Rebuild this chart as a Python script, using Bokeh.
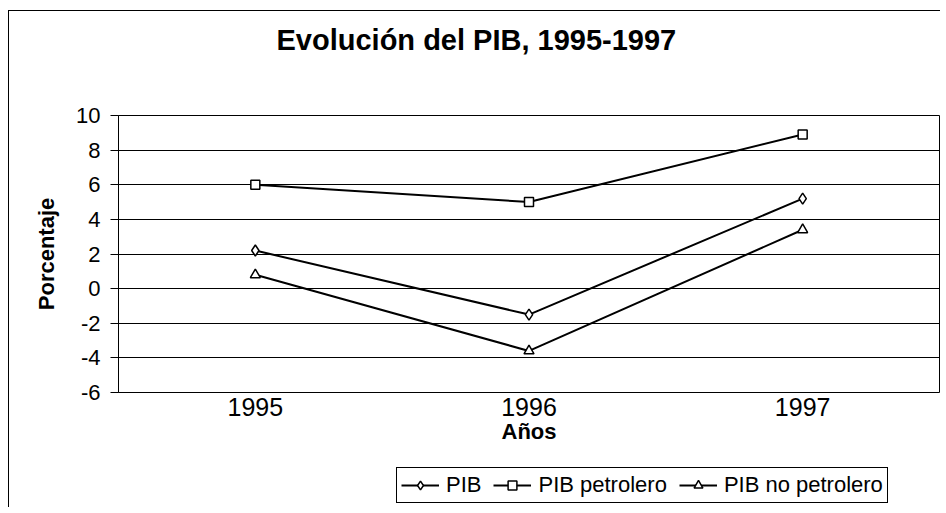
from bokeh.plotting import figure
from bokeh.layouts import column
from bokeh.models import (Range1d, FactorRange, Legend, LegendItem, FixedTicker,
                          PrintfTickFormatter, Title)
from bokeh.embed import file_html
from bokeh.resources import INLINE

# ---- data ----
years = ["1995", "1996", "1997"]
pib = [2.2, -1.5, 5.2]
pib_petrolero = [6.0, 5.0, 8.9]
pib_no_petrolero = [0.8, -3.6, 3.4]
y_ticks = [-6, -4, -2, 0, 2, 4, 6, 8, 10]
series_names = ["PIB", "PIB petrolero", "PIB no petrolero"]

FONT = "Liberation Sans"

p = figure(frame_width=821, frame_height=277,
           x_range=FactorRange(*years), y_range=Range1d(-6, 10),
           output_backend="svg", toolbar_location=None,
           min_border_left=109, min_border_right=1,
           min_border_top=104, min_border_bottom=55,
           background_fill_color="white", border_fill_color="white")

# title (outermost) + spacer between title and frame
p.title.text = "Evolución del PIB, 1995-1997"
p.title.text_font = FONT
p.title.text_font_size = "29px"
p.title.text_font_style = "bold"
p.title.text_color = "black"
p.title.align = "left"
p.title.offset = 158
p.title.standoff = 20
p.add_layout(Title(text=" ", text_font_size="1px", standoff=47), "above")

# frame / grid
p.outline_line_color = "black"
p.outline_line_width = 1
p.outline_line_alpha = 1
p.xgrid.grid_line_color = None
p.ygrid.grid_line_color = "black"
p.ygrid.grid_line_width = 1
p.ygrid.grid_line_alpha = 1

# y axis
p.yaxis.ticker = FixedTicker(ticks=y_ticks)
p.yaxis.formatter = PrintfTickFormatter(format="%d")
p.yaxis.axis_label = "Porcentaje"
p.yaxis.axis_label_text_font = FONT
p.yaxis.axis_label_text_font_size = "22px"
p.yaxis.axis_label_text_font_style = "bold"
p.yaxis.axis_label_text_color = "black"
p.yaxis.axis_label_standoff = 14
p.yaxis.major_label_text_font = FONT
p.yaxis.major_label_text_font_size = "22px"
p.yaxis.major_label_text_color = "black"
p.yaxis.major_label_standoff = 10
p.yaxis.major_tick_out = 8
p.yaxis.major_tick_in = 0
p.yaxis.minor_tick_line_color = None
p.yaxis.axis_line_color = "black"
p.yaxis.major_tick_line_color = "black"

# x axis
p.xaxis.axis_label = "Años"
p.xaxis.axis_label_text_font = FONT
p.xaxis.axis_label_text_font_size = "22px"
p.xaxis.axis_label_text_font_style = "bold"
p.xaxis.axis_label_text_color = "black"
p.xaxis.axis_label_standoff = 0
p.xaxis.major_label_text_font = FONT
p.xaxis.major_label_text_font_size = "25px"
p.xaxis.major_label_text_color = "black"
p.xaxis.major_label_standoff = -1
p.xaxis.major_tick_line_color = None
p.xaxis.minor_tick_line_color = None
p.xaxis.axis_line_color = None

markers = ["diamond", "square", "triangle"]
sizes = [11, 9, 10]
values = [pib, pib_petrolero, pib_no_petrolero]

for vals, marker, size in zip(values, markers, sizes):
    p.line(years, vals, line_color="black", line_width=2)
    p.scatter(years, vals, marker=marker, size=size, fill_color="white",
              line_color="black", line_width=1.5)

# ---- legend strip below the chart (own small figure, legend fully inside) ----
pl = figure(width=931, height=60,
            x_range=FactorRange(*years), y_range=Range1d(100, 101),
            x_axis_type=None, y_axis_type=None,
            output_backend="svg", toolbar_location=None,
            title_location=None,
            min_border_left=0, min_border_right=0,
            min_border_top=0, min_border_bottom=0,
            background_fill_color="white", border_fill_color="white")
pl.outline_line_color = None

items = []
for name, vals, marker, size in zip(series_names, values, markers, sizes):
    ln = pl.line(years, vals, line_color="black", line_width=2)
    sc = pl.scatter(years, vals, marker=marker, size=size, fill_color="white",
                    line_color="black", line_width=1.5)
    items.append(LegendItem(label=name, renderers=[ln, sc]))

legend = Legend(items=items, orientation="horizontal", location=(278, 4),
                label_text_font=FONT, label_text_font_size="22px",
                label_text_color="black",
                label_height=22, glyph_height=22, glyph_width=38,
                label_standoff=7, spacing=12, padding=4, margin=0,
                border_line_color="black", border_line_width=1,
                border_line_alpha=1,
                background_fill_color="white", background_fill_alpha=1)
pl.add_layout(legend, "center")

layout = column(p, pl, spacing=0)
layout.styles = {"margin-left": "8px", "margin-top": "10px",
                 "border-left": "1px solid black", "border-top": "1px solid black"}

open("out.html", "w").write(file_html(layout, INLINE))
